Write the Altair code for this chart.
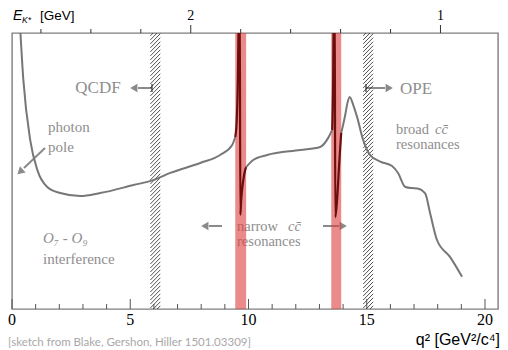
import altair as alt
import pandas as pd
import numpy as np

# ---------------- data ----------------
# gray curve, part A (photon pole + rising part, up to J/psi)
a_q2 = [0.33, 0.48, 0.77, 1.07, 1.49, 2.04, 2.89, 3.73, 5.13, 5.97, 6.69, 7.96, 8.80, 9.31, 9.44]
a_y = [104, 83, 61.2, 50.4, 44.2, 42.0, 40.9, 42.0, 44.9, 46.7, 49.3, 52.9, 55.8, 59.4, 62.3]
# dark-red J/psi interference spike
b_q2 = [9.44, 9.50, 9.55, 9.60, 9.63, 9.655, 9.69, 9.78, 9.86, 9.90]
b_y = [62.3, 68.0, 83.0, 112, 112, 34.1, 39.5, 46.7, 50.4, 51.4]
# gray curve, part C (between J/psi and psi(2S))
c_q2 = [9.90, 10.2, 10.79, 12.19, 13.03, 13.37, 13.54]
c_y = [51.4, 54.0, 55.8, 57.6, 58.7, 62.0, 64.9]
# dark-red psi(2S) spike
d_q2 = [13.54, 13.58, 13.61, 13.645, 13.67, 13.75, 13.83, 13.92]
d_y = [64.9, 83.0, 112, 112, 33.3, 40.0, 52.0, 63.8]
# gray curve, part E (broad resonances)
e_q2 = [13.92, 14.09, 14.18, 14.28, 14.43, 14.59, 14.85, 15.14, 15.57, 16.07, 16.33,
        16.62, 16.88, 17.13, 17.47, 17.68, 17.97, 18.52, 19.03]
e_y = [63.8, 70.3, 74.5, 76.8, 73.9, 69.6, 61.2, 55.8, 53.4, 51.8, 49.2,
       44.3, 43.8, 43.7, 41.9, 34.7, 25.0, 18.9, 11.7]

# narrow charmonium vetoes (red bands) and hatched boundaries
red_lo = [9.44, 13.50]
red_hi = [9.90, 13.92]
hatch_lo = [5.85, 14.85]
hatch_hi = [6.27, 15.27]

# axes
q2_major = [0, 5, 10, 15, 20]
q2_minor = [1, 2, 3, 4, 6, 7, 8, 9, 11, 12, 13, 14, 16, 17, 18, 19]
e_major = [2, 1]
e_minor = [2.6, 2.4, 2.2, 1.8, 1.6, 1.4, 1.2]

M_B, M_KST = 5.2797, 0.8955


def e_to_q2(e):
    return M_B ** 2 + M_KST ** 2 - 2 * M_B * e


# ---------------- layout ----------------
W, H = 486, 276
XMAX = 20.55
YMIN = 0.0
xs = alt.Scale(domain=[0, XMAX], nice=False, zero=False)
ys = alt.Scale(domain=[YMIN, 100], nice=False, zero=False)
GRAY_TXT = "#8e8e8e"
CURVE = "#777777"
DARK = "#6a0e0e"
SERIF = "Liberation Serif"
SANS = "Liberation Sans"


def xq(f):
    return alt.X(f, type="quantitative", scale=xs, axis=None)


def yq(f):
    return alt.Y(f, type="quantitative", scale=ys, axis=None)


layers = []

# annotation texts (pixel positions relative to plot origin)
texts = [
    ("QCDF", 86, 55, 17, "center", SERIF, "normal", GRAY_TXT, "middle"),
    ("OPE", 388, 56, 17, "left", SERIF, "normal", GRAY_TXT, "middle"),
    ("photon", 36, 94, 15, "left", SERIF, "normal", GRAY_TXT, "middle"),
    ("pole", 36, 114, 15, "left", SERIF, "normal", GRAY_TXT, "middle"),
    ("broad", 384, 97, 14.5, "left", SERIF, "normal", GRAY_TXT, "middle"),
    ("cc\u0304", 423, 97, 14.5, "left", SERIF, "italic", GRAY_TXT, "middle"),
    ("resonances", 384, 112, 14.5, "left", SERIF, "normal", GRAY_TXT, "middle"),
    ("narrow", 225, 194, 14.5, "left", SERIF, "normal", GRAY_TXT, "middle"),
    ("cc\u0304", 276, 194, 14.5, "left", SERIF, "italic", GRAY_TXT, "middle"),
    ("resonances", 225, 209, 14.5, "left", SERIF, "normal", GRAY_TXT, "middle"),
    ("O\u2087 - O\u2089", 31, 205, 15, "left", SERIF, "italic", GRAY_TXT, "middle"),
    ("interference", 31, 226, 15, "left", SERIF, "normal", GRAY_TXT, "middle"),
    ("[sketch from Blake, Gershon, Hiller 1501.03309]", -4, 313, 11.5, "left", "Lato", "normal",
     "#a8a8a8", "alphabetic"),
    ("q\u00b2 [GeV\u00b2/c\u2074]", 488, 312, 16, "right", SANS, "normal", "#000000", "alphabetic"),
    ("E", 1, -13, 14, "left", SANS, "italic", "#000000", "alphabetic"),
    ("K*", 10, -10, 8.5, "left", SANS, "italic", "#000000", "alphabetic"),
    ("[GeV]", 28, -13, 13.5, "left", SANS, "normal", "#000000", "alphabetic"),
]
anno = pd.DataFrame({"t": [0]})
for (t, x, y, s, al, fo, st, co, bl) in texts:
    layers.append(
        alt.Chart(anno).mark_text(text=t, fontSize=s, align=al, baseline=bl, font=fo,
                                  fontStyle=st, color=co)
        .encode(x=alt.value(x), y=alt.value(y))
    )

# arrows: shafts
shafts = [
    (140, 55, 126, 55),   # QCDF
    (354, 55, 373, 55),   # OPE
    (33, 115, 12, 135),   # photon pole
    (210, 193, 197, 193),  # narrow left
    (311, 193, 327, 193),  # narrow right
]
for (x1, y1, x2, y2) in shafts:
    layers.append(
        alt.Chart(anno).mark_rule(color="#8a8a8a", strokeWidth=2)
        .encode(x=alt.value(x1), y=alt.value(y1), x2=alt.value(x2), y2=alt.value(y2))
    )
heads = [
    (123, 55, 270),
    (376, 55, 90),
    (9, 138, 227),
    (194, 193, 270),
    (330, 193, 90),
]
for (x, y, a) in heads:
    layers.append(
        alt.Chart(anno).mark_point(shape="triangle", filled=True, size=70, color="#8a8a8a",
                                   opacity=1, angle=a)
        .encode(x=alt.value(x), y=alt.value(y))
    )
# little tail bars at hatched boundaries
for x in [140, 354]:
    layers.append(
        alt.Chart(anno).mark_rule(color="#333333", strokeWidth=1.2)
        .encode(x=alt.value(x), y=alt.value(51), y2=alt.value(59))
    )

# red bands
red_df = pd.DataFrame({"lo": red_lo, "hi": red_hi})
layers.append(
    alt.Chart(red_df).mark_rect(color="#dd3c3c", opacity=0.6)
    .encode(x=xq("lo"), x2="hi", y=alt.value(0), y2=alt.value(H))
)

# hatched bands
rows = []
for lo, hi in zip(hatch_lo, hatch_hi):
    for y0 in np.arange(-4.0, 100.5, 1.45):
        rows.append({"x1": lo, "x2": hi, "y1": y0, "y2": y0 + 3.7})
hatch_df = pd.DataFrame(rows)
layers.append(
    alt.Chart(hatch_df).mark_rule(color="#333333", strokeWidth=0.85, clip=True)
    .encode(x=xq("x1"), x2="x2", y=yq("y1"), y2="y2")
)

# curve
def part(q, y, name):
    return pd.DataFrame({"q2": q, "y": y, "part": name, "i": range(len(q))})


gray_df = pd.concat([part(a_q2, a_y, "A"), part(c_q2, c_y, "C"), part(e_q2, e_y, "E")])
dark_df = pd.concat([part(b_q2, b_y, "B"), part(d_q2, d_y, "D")])
layers.append(
    alt.Chart(gray_df).mark_line(color=CURVE, strokeWidth=2, interpolate="monotone", clip=True)
    .encode(x=xq("q2"), y=yq("y"), detail="part:N", order="i:Q")
)
layers.append(
    alt.Chart(dark_df).mark_line(color=DARK, strokeWidth=2.2, interpolate="monotone", clip=True)
    .encode(x=xq("q2"), y=yq("y"), detail="part:N", order="i:Q")
)

# bottom ticks (inward) and labels
bmaj = pd.DataFrame({"q": q2_major, "lab": [str(v) for v in q2_major]})
bmin = pd.DataFrame({"q": q2_minor})
layers.append(alt.Chart(bmaj).mark_rule(color="#555555", strokeWidth=1)
              .encode(x=xq("q"), y=alt.value(H), y2=alt.value(H - 10)))
layers.append(alt.Chart(bmin).mark_rule(color="#555555", strokeWidth=1)
              .encode(x=xq("q"), y=alt.value(H), y2=alt.value(H - 5)))
layers.append(alt.Chart(bmaj).mark_text(font=SERIF, fontSize=16, color="#000000", baseline="alphabetic")
              .encode(x=xq("q"), y=alt.value(H + 16), text="lab:N"))

# top E_K* ticks (outward) and labels
tmaj = pd.DataFrame({"q": [e_to_q2(e) for e in e_major], "lab": [str(e) for e in e_major]})
tmin = pd.DataFrame({"q": [e_to_q2(e) for e in e_minor]})
layers.append(alt.Chart(tmaj).mark_rule(color="#333333", strokeWidth=1)
              .encode(x=xq("q"), y=alt.value(0), y2=alt.value(-8)))
layers.append(alt.Chart(tmin).mark_rule(color="#333333", strokeWidth=1)
              .encode(x=xq("q"), y=alt.value(0), y2=alt.value(-4)))
layers.append(alt.Chart(tmaj).mark_text(font=SERIF, fontSize=14, color="#000000", baseline="alphabetic")
              .encode(x=xq("q"), y=alt.value(-13), text="lab:N"))

chart = (
    alt.layer(*layers)
    .properties(width=W, height=H, autosize=alt.AutoSizeParams(type="none"),
                padding={"left": 4, "top": 25, "right": 2, "bottom": 40})
    .configure_view(stroke="#7f7f7f", strokeWidth=1.4)
)
chart.save("out.html", embed_options={"renderer": "svg", "actions": False})
